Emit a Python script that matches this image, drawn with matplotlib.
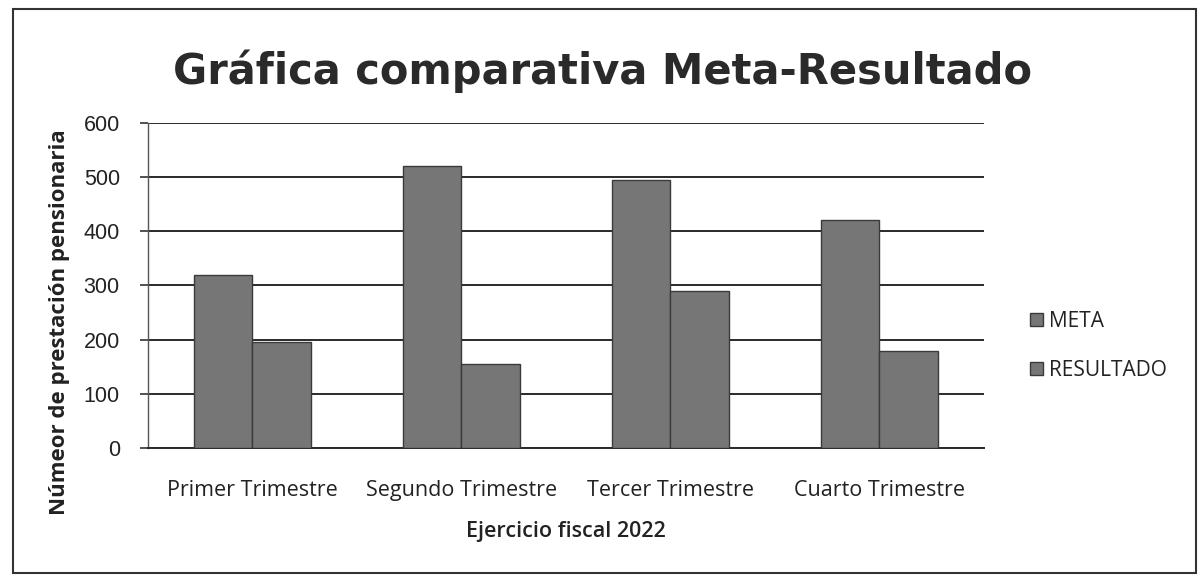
import matplotlib
matplotlib.use("Agg")
import matplotlib.pyplot as plt
import numpy as np
from matplotlib.patches import Patch, Rectangle

categories = ["Primer Trimestre", "Segundo Trimestre", "Tercer Trimestre", "Cuarto Trimestre"]
meta = [320, 520, 495, 420]
resultado = [195, 155, 290, 180]
series_names = ["META", "RESULTADO"]
yticks = [0, 100, 200, 300, 400, 500, 600]

title = "Gráfica comparativa Meta-Resultado"
ylabel = "Númeor de prestación pensionaria"
xlabel = "Ejercicio fiscal 2022"

fig = plt.figure(figsize=(12, 5.82), dpi=100)
ax = fig.add_axes([0.123, 0.230, 0.697, 0.559])

x = np.arange(len(categories))
w = 0.28
bar_color = "#767676"
edge = "#3a3a3a"
ax.bar(x - w / 2, meta, width=w, color=bar_color, edgecolor=edge, linewidth=1.0, zorder=3)
ax.bar(x + w / 2, resultado, width=w, color=bar_color, edgecolor=edge, linewidth=1.0, zorder=3)

ax.set_xlim(-0.5, len(categories) - 0.5)
ax.set_ylim(0, 600)
ax.set_yticks(yticks)
ax.set_yticklabels([str(v) for v in yticks], fontsize=15.5, family="Liberation Sans", color="#222222")
ax.set_xticks(x)
ax.set_xticklabels(categories, fontsize=15.5, family="Open Sans", color="#222222")
ax.tick_params(axis="x", length=0, pad=23)
ax.tick_params(axis="y", length=6, width=1.2, color="#333333", pad=14)
ax.yaxis.grid(True, color="#2a2a2a", linewidth=1.4, zorder=0)
ax.set_axisbelow(True)
for s in ["top", "right"]:
    ax.spines[s].set_visible(False)
ax.spines["left"].set_color("#555555")
ax.spines["left"].set_linewidth(1.0)
ax.spines["bottom"].set_color("#2a2a2a")
ax.spines["bottom"].set_linewidth(1.4)

ax.set_xlabel(xlabel, fontsize=15.5, family="Open Sans", fontweight="semibold", color="#222222", labelpad=14)
fig.text(0.05, 0.447, ylabel, rotation=90, fontsize=16, fontweight="bold", family="Open Sans",
         color="#222222", ha="center", va="center")

fig.text(0.502, 0.877, title, fontsize=30, fontweight="bold", family="DejaVu Sans",
         color="#2a2a2a", ha="center", va="center")

handles = [Patch(facecolor=bar_color, edgecolor=edge, label=n) for n in series_names]
fig.legend(handles=handles, loc="center left", bbox_to_anchor=(0.843, 0.406), frameon=False,
           prop={"family": "Open Sans", "size": 15}, handlelength=0.6, handleheight=0.6,
           handletextpad=0.3, labelspacing=1.35, labelcolor="#222222")

fig.patches.append(Rectangle((0.011, 0.016), 0.986, 0.968, transform=fig.transFigure,
                             fill=False, edgecolor="#333333", linewidth=1.5))

fig.savefig("out.png", dpi=100, facecolor="white")
